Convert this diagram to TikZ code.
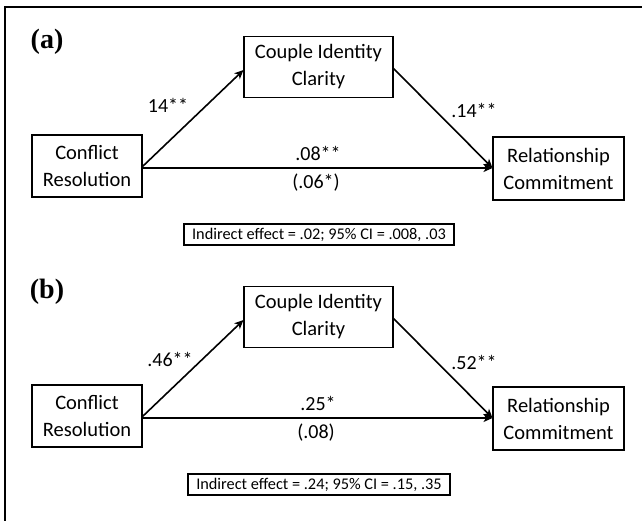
\documentclass[tikz,border=0pt]{standalone}
\usepackage{fontspec}
\setmainfont{Carlito}
\newfontfamily\panelfont{Liberation Serif}
\usetikzlibrary{arrows.meta}
\begin{document}
\begin{tikzpicture}[x=1pt,y=-1pt,
  varbox/.style={draw, line width=1.6pt, align=center, inner sep=0pt, font=\fontsize{20.5}{27}\selectfont},
  effbox/.style={draw, line width=1.8pt, inner xsep=8pt, inner ysep=0pt, minimum height=21pt, font=\fontsize{16.3}{18}\selectfont},
  coef/.style={font=\fontsize{20}{22}\selectfont, inner sep=0pt},
  panel/.style={font=\panelfont\bfseries\fontsize{28}{30}\selectfont, inner sep=0pt},
  path/.style={line width=1.6pt, -{Stealth[length=9pt,width=8pt,inset=2.5pt]}}]
\useasboundingbox (0,0) rectangle (642,521);
\fill[white] (0,0) rectangle (642,521);
\coordinate (tl) at (5,7);
\coordinate (tr) at (642,7);
\coordinate (bl) at (5,521);
\draw[line width=2.4pt] (tr) -- (tl) -- (bl);
\foreach \p/\dy/\lab/\ca/\cb/\cc/\cd/\ind/\xa/\ya/\yb in {a/0/(a)/14**/.14**/.08**/(.06*)/{Indirect effect = .02; 95\% CI = .008, .03}/168/105/110,
                                              b/250/(b)/.46**/.52**/.25*/(.08)/{Indirect effect = .24; 95\% CI = .15, .35}/170/109/112}{
  \begin{scope}[yshift=-\dy pt]
  \node[panel] (lab\p) at (47,42) {\lab};
  \node[varbox, minimum width=110pt, minimum height=62pt] (cr\p) at (87,166) {Conflict\\Resolution};
  \node[varbox, minimum width=149pt, minimum height=61pt] (ci\p) at (318.5,67) {Couple Identity\\Clarity};
  \node[varbox, minimum width=131pt, minimum height=63pt] (rc\p) at (558.5,168.5) {Relationship\\Commitment};
  \coordinate (o\p) at (142,167);
  \coordinate (h\p) at (142,168);
  \coordinate (t\p) at (243.5,70);
  \coordinate (s\p) at (393,68);
  \coordinate (e\p) at (492.5,168);
  \draw[path] (o\p) -- (t\p);
  \draw[path] (s\p) -- (e\p);
  \draw[path] (h\p) -- (e\p);
  \node[coef] (ka\p) at (\xa,\ya) {\ca};
  \node[coef] (kb\p) at (474,\yb) {\cb};
  \node[coef] (kc\p) at (318,153) {\cc};
  \node[coef] (kd\p) at (316,183) {\cd};
  \node[effbox] (ie\p) at (319,234.5) {\ind};
  \end{scope}
}
\end{tikzpicture}
\end{document}
